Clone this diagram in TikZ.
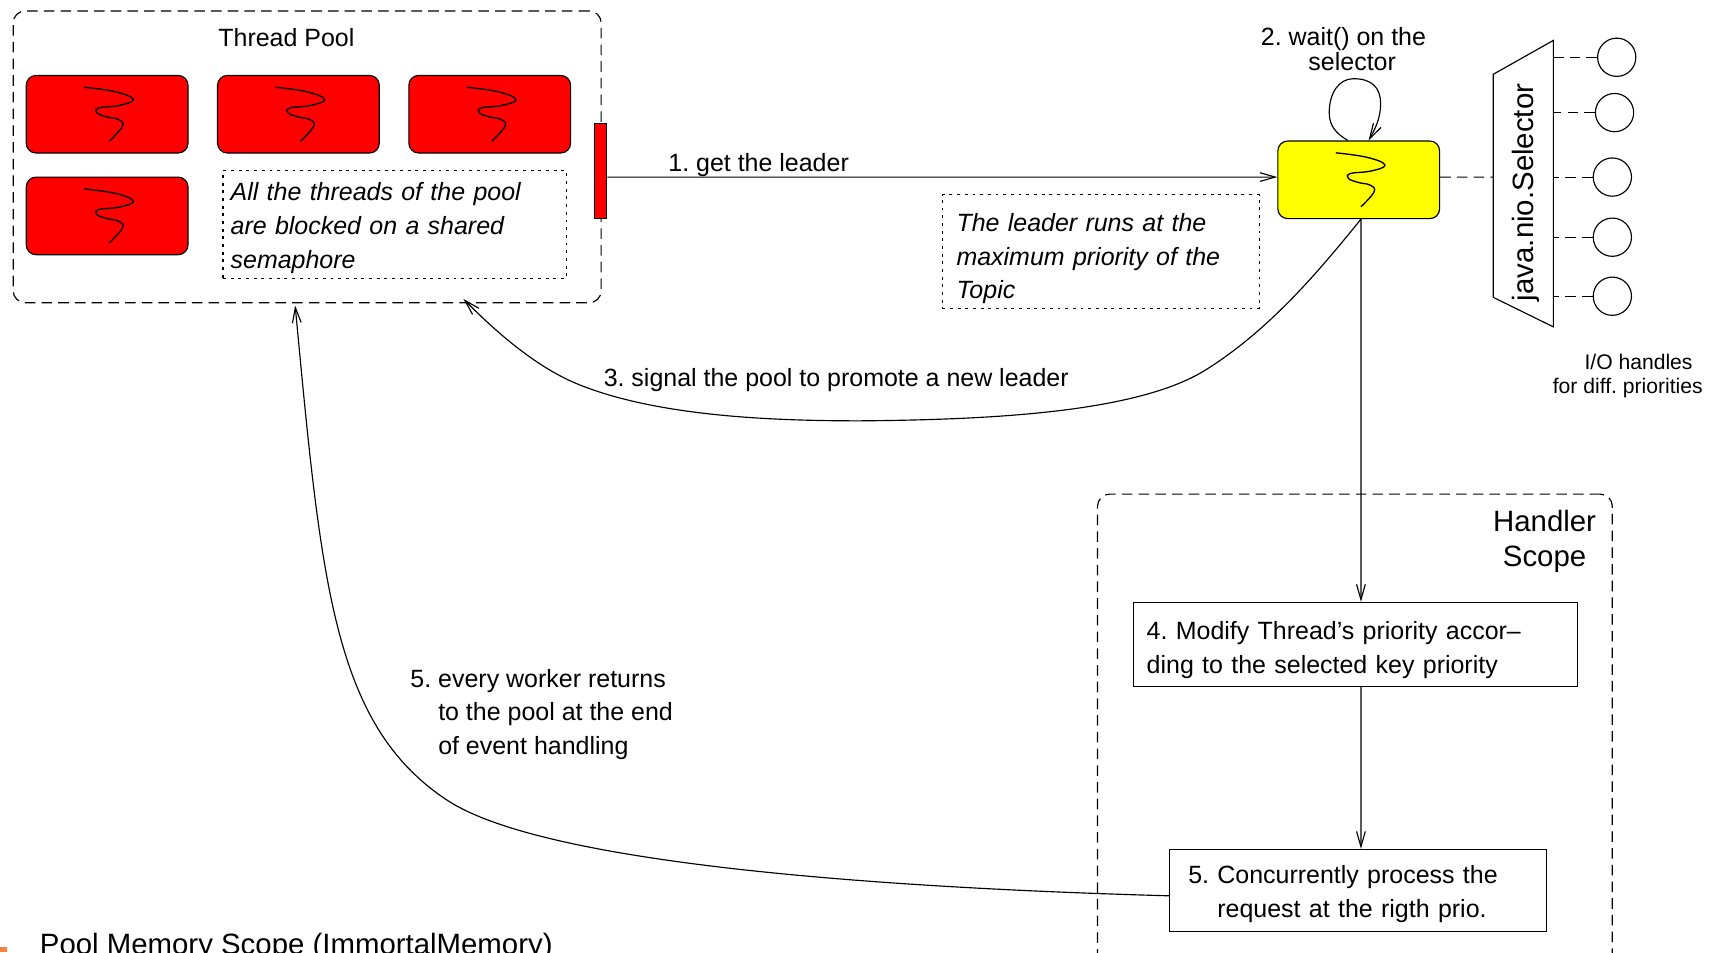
\documentclass[tikz,border=0pt]{standalone}
\usepackage{fontspec}
\setmainfont{Liberation Sans}
\usepackage{tikz}
\usetikzlibrary{arrows.meta,positioning,calc}
\definecolor{threadyellow}{RGB}{255,255,0}
\definecolor{threadred}{RGB}{255,0,0}
\definecolor{slideorange}{RGB}{247,130,70}

\begin{document}
\frenchspacing
\begin{tikzpicture}[
        x=0.02cm, y=-0.02cm,
        line width=0.6pt,
        >={Straight Barb[length=2.8mm,width=1.6mm]},
        every node/.style={color=black, inner sep=0pt,
            font=\fontsize{13}{17.6}\selectfont},
        thread/.style={draw, rounded corners=0.18cm, minimum width=2.96cm,
            minimum height=1.42cm,
            path picture={
                \draw[sharp corners, line width=0.7pt, shift={(path picture bounding box.center)}]
                    plot[smooth, tension=0.7] coordinates {(-21,-24.7) (8,-20.5) (24,-13.4)
                    (10.5,-7.9) (-7.6,-5.8) (-9.4,-1.2) (-0.4,2.4) (10.5,4.9) (14,11) (2,24.7)};
            }},
        lift/.style={execute at begin node={\rule{0pt}{#1}}},
        note/.style={draw, dash pattern=on 1.5pt off 2.5pt, align=left,
            font=\fontsize{13}{17.6}\selectfont\itshape},
        scopebox/.style={draw, rounded corners=0.22cm, dash pattern=on 5.5pt off 3.2pt},
        stub/.style={dash pattern=on 5.5pt off 3.2pt},
        stepbox/.style={draw, align=left},
        handle/.style={draw, circle, minimum size=0.7cm},
    ]
    \clip (0,0) rectangle (1568,871);

    % scopes
    \node[scopebox, minimum width=10.76cm, minimum height=5.34cm] at (281,143.5) (pool) {};
    \node[scopebox, minimum width=9.42cm, minimum height=9.0cm] at (1239.5,677) (handler) {};
    \node at (262,34) (pooltitle) {Thread Pool};
    \node[align=center, font=\fontsize{15.3}{18.3}\selectfont] at (1413,495.5) (handlertitle) {Handler\\Scope};

    % threads
    \node[thread, fill=threadred] at (98,104.5) (th1) {};
    \node[thread, fill=threadred] at (273,104.5) (th2) {};
    \node[thread, fill=threadred] at (448,104.5) (th3) {};
    \node[thread, fill=threadred] at (98,197.5) (th4) {};
    \node[thread, fill=threadyellow] at (1243,164.5) (leader) {};
    \node[draw, fill=threadred, minimum width=0.22cm, minimum height=1.74cm] at (549.5,156.5) (bar) {};

    % notes
    \node[note, lift=13pt, minimum width=6.28cm, minimum height=1.98cm, text width=6cm] at (361,205.5) (note1)
        {All the threads of the pool\\are blocked on a shared\\semaphore};
    \node[note, lift=17pt, minimum width=5.8cm, minimum height=2.08cm, text width=5.28cm] at (1007,230) (note2)
        {The leader runs at the\\maximum priority of the\\Topic};

    % steps
    \node[stepbox, lift=15pt, minimum width=8.12cm, minimum height=1.54cm, text width=7.64cm] at (1240,589.5) (modify)
        {4. Modify Thread’s priority accor–\\ding to the selected key priority};
    \node[stepbox, lift=13pt, minimum width=6.9cm, minimum height=1.5cm, text width=6.22cm] at (1242.5,814.5) (process)
        {5. Concurrently process the\\\phantom{5. }request at the rigth prio.};

    % selector
    \draw (1366,68) coordinate (sel_1) -- (1421,37) coordinate (sel_2)
        -- (1421,299) coordinate (sel_3) -- (1366,272) coordinate (sel_4) -- cycle;
    \coordinate (sel_in) at (1366,162);
    \node[rotate=90, font=\fontsize{15.3}{18}\selectfont] at (1396,176) (sellabel) {java.nio.Selector};
    \node[handle] at (1479,52.4) (h1) {};
    \node[handle] at (1477,103) (h2) {};
    \node[handle] at (1475,162) (h3) {};
    \node[handle] at (1475,217) (h4) {};
    \node[handle] at (1475,271) (h5) {};
    \draw[stub] (h1.west) -- (h1.west -| sel_2);
    \draw[stub] (h2.west) -- (h2.west -| sel_2);
    \draw[stub] (h3.west) -- (h3.west -| sel_2);
    \draw[stub] (h4.west) -- (h4.west -| sel_2);
    \draw[stub] (h5.west) -- (h5.west -| sel_2);
    \draw[stub] ([yshift=0.05cm]leader.east) -- (sel_in);

    % connectors
    \draw[->] ([yshift=-0.11cm]bar.east) -- ([yshift=0.05cm]leader.west);
    \draw[->] ([xshift=-0.2cm]leader.north) .. controls (1222,122) and (1216,115) .. (1216,103)
        .. controls (1216,85) and (1225,72) .. (1238,72)
        .. controls (1255,72) and (1263,80) .. (1263,95)
        .. controls (1263,108) and (1258,118) .. ([xshift=0.18cm]leader.north);
    \draw[->] ([xshift=0.04cm]leader.south) .. controls (1205,250) and (1160,303) .. (1102,339)
        .. controls (1040,377) and (910,384) .. (786,385)
        .. controls (700,385) and (600,380) .. (530,352)
        .. controls (495,338) and (460,310) .. ([xshift=2.86cm,yshift=0.08cm]pool.south);
    \draw[->] ([xshift=0.04cm]leader.south) -- ([xshift=0.1cm]modify.north);
    \draw[->] ([xshift=0.1cm]modify.south) -- ([xshift=0.05cm]process.north);
    \draw[->] ([yshift=-0.1cm]process.west) .. controls (800,812) and (497,790) .. (409,732)
        .. controls (304.5,663) and (294,533) .. ([xshift=-0.22cm,yshift=-0.04cm]pool.south);

    % labels
    \node at (694,151) (get) {1. get the leader};
    \node[align=center, font=\fontsize{13}{13}\selectfont] at (1229,45) (wait) {2. wait() on the\\\hspace{0.32cm}selector};
    \node at (765,348) (signal) {3. signal the pool to promote a new leader};
    \node[align=left, anchor=west] at (375,653.5) (returns)
        {5. every worker returns\\\phantom{5. }to the pool at the end\\\phantom{5. }of event handling};
    \node[align=left, anchor=west, font=\fontsize{11}{12.5}\selectfont] at (1420,344) (handles)
        {\hspace{0.58cm}I/O handles\\for diff. priorities};

    % slide leftovers
    \fill[slideorange] (0,866) rectangle (6,871);
    \node[anchor=base west, font=\fontsize{15.3}{18}\selectfont] at (36,873) (memory)
        {Pool Memory Scope (ImmortalMemory)};
\end{tikzpicture}
\end{document}
